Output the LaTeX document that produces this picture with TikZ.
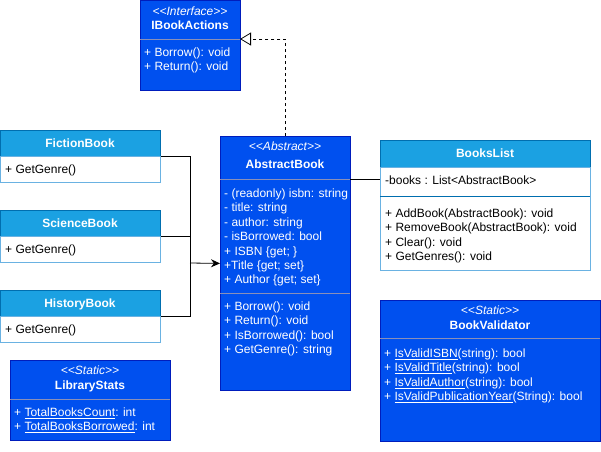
\documentclass[tikz,border=0pt]{standalone}
\usepackage{fontspec}
\setmainfont{Liberation Sans}
\usetikzlibrary{arrows.meta}
\definecolor{dkfill}{HTML}{0050EF}
\definecolor{dkline}{HTML}{001DBC}
\definecolor{ltfill}{HTML}{1BA1E2}
\definecolor{ltline}{HTML}{006EAF}
\definecolor{bdline}{HTML}{6AB2E2}
\definecolor{dvline}{HTML}{8A8FB8}
\newcommand{\stype}[1]{<\kern0pt<#1>\kern0pt>}
\begin{document}
\begin{tikzpicture}[x=1pt,y=-1pt,
    every node/.style={inner sep=0pt, font=\fontsize{12}{14.4}\selectfont},
    dkbox/.style={draw=dkline, fill=dkfill, anchor=north west, line width=0.8pt},
    hdbox/.style={draw=ltline, fill=ltfill, anchor=north west, line width=0.8pt},
    bdbox/.style={draw=bdline, fill=white, anchor=north west, line width=0.8pt},
    divider/.style={draw=dvline, line width=0.8pt},
    title/.style={anchor=base, text=white, font=\fontsize{12}{14.4}\selectfont\bfseries},
    stereo/.style={anchor=base, text=white, font=\fontsize{12}{14.4}\selectfont\itshape},
    wtext/.style={anchor=base west, align=left, text=white},
    btext/.style={anchor=base west, align=left, text=black},
    link/.style={draw=black, line width=0.8pt}]
  \useasboundingbox (0,0) rectangle (601,451);

  % interface
  \node[dkbox, minimum width=100pt, minimum height=90pt] (actions) at (140,0) {};
  \draw[divider] (140,39) -- (240,39);
  \node[stereo] (actionsst) at (190,15.5) {\stype{Interface}};
  \node[title] (actionsti) at (190,29.5) {IBookActions};
  % multi-line nodes sit on their last baseline
  \node[wtext] (actionsops) at (144,70.9) {+ Borrow(): void\\+ Return(): void};

  % subclasses
  \node[hdbox, minimum width=160pt, minimum height=26pt] (fictionhead) at (0,130) {};
  \node[bdbox, minimum width=160pt, minimum height=26pt] (fictionbody) at (0,156) {};
  \node[title] (fictionti) at (80,147.5) {FictionBook};
  \node[btext] (fictionops) at (5,173.5) {+ GetGenre()};

  \node[hdbox, minimum width=160pt, minimum height=26pt] (sciencehead) at (0,210) {};
  \node[bdbox, minimum width=160pt, minimum height=26pt] (sciencebody) at (0,236) {};
  \node[title] (scienceti) at (80,227.5) {ScienceBook};
  \node[btext] (scienceops) at (5,253.5) {+ GetGenre()};

  \node[hdbox, minimum width=160pt, minimum height=26pt] (historyhead) at (0,290) {};
  \node[bdbox, minimum width=160pt, minimum height=26pt] (historybody) at (0,316) {};
  \node[title] (historyti) at (80,307.5) {HistoryBook};
  \node[btext] (historyops) at (5,333.5) {+ GetGenre()};

  % abstract class
  \node[dkbox, minimum width=130pt, minimum height=254pt] (abstract) at (220,136) {};
  \draw[divider] (220,179) -- (350,179);
  \draw[divider] (220,293) -- (350,293);
  \node[stereo] (abstractst) at (285,150.5) {\stype{Abstract}};
  \node[title] (abstractti) at (285,168.5) {AbstractBook};
  \node[wtext] (abstractattr) at (224,283.9) {- (readonly) isbn: string\\- title: string\\- author: string\\- isBorrowed: bool\\+ ISBN \{get; \}\\+Title \{get; set\}\\+ Author \{get; set\}};
  \node[wtext] (abstractops) at (224,353.7) {+ Borrow(): void\\+ Return(): void\\+ IsBorrowed(): bool\\+ GetGenre(): string};

  % list
  \node[hdbox, minimum width=210pt, minimum height=27pt] (bookshead) at (380,140) {};
  \node[bdbox, minimum width=210pt, minimum height=103pt] (booksbody) at (380,167) {};
  \node[bdbox, draw=none, fill=none, minimum width=210pt, minimum height=29pt] (booksattr) at (380,167) {};
  \draw[draw=ltline, line width=0.8pt] (380,196) -- (590,196);
  \node[title] (booksti) at (485,157.5) {BooksList};
  \node[btext] (booksat) at (385,184.5) {-books : List<AbstractBook>};
  \node[btext] (booksops) at (385,260.7) {+ AddBook(AbstractBook): void\\+ RemoveBook(AbstractBook): void\\+ Clear(): void\\+ GetGenres(): void};

  % static helpers
  \node[dkbox, minimum width=220pt, minimum height=141pt] (validator) at (380,300) {};
  \draw[divider] (380,338) -- (600,338);
  \node[stereo] (validatorst) at (490,314.5) {\stype{Static}};
  \node[title] (validatorti) at (490,329.5) {BookValidator};
  \node[wtext] (validatorops) at (384,400.7) {+ \underline{IsValidISBN}(string): bool\\+ \underline{IsValidTitle}(string): bool\\+ \underline{IsValidAuthor}(string): bool\\+ \underline{IsValidPublicationYear}(String): bool};

  \node[dkbox, minimum width=160pt, minimum height=80pt] (stats) at (10,360) {};
  \draw[divider] (10,399) -- (170,399);
  \node[stereo] (statsst) at (90,374.5) {\stype{Static}};
  \node[title] (statsti) at (90,389.5) {LibraryStats};
  \node[wtext] (statsattr) at (14,430.9) {+ \underline{TotalBooksCount}: int\\+ \underline{TotalBooksBorrowed}: int};

  % connectors
  \coordinate (joint) at (190,263);
  \coordinate (ifcdiv) at (240,39);
  \coordinate (absdiv) at (350,179);
  \draw[link] (fictionbody.north east) -| (joint);
  \draw[link] (historybody.north east) -| (joint);
  \draw[link] (sciencebody.north east) -- (sciencebody.north east -| joint);
  \draw[link, -{Stealth[length=9pt, width=8pt]}] (joint) -- (abstract.west);
  \draw[link] (absdiv) -- (absdiv -| booksattr.west);
  \draw[link, dash pattern=on 3pt off 3pt, -{Triangle[open, length=11pt, width=13pt, fill=white]}] (abstract.north) |- (ifcdiv);
\end{tikzpicture}
\end{document}
